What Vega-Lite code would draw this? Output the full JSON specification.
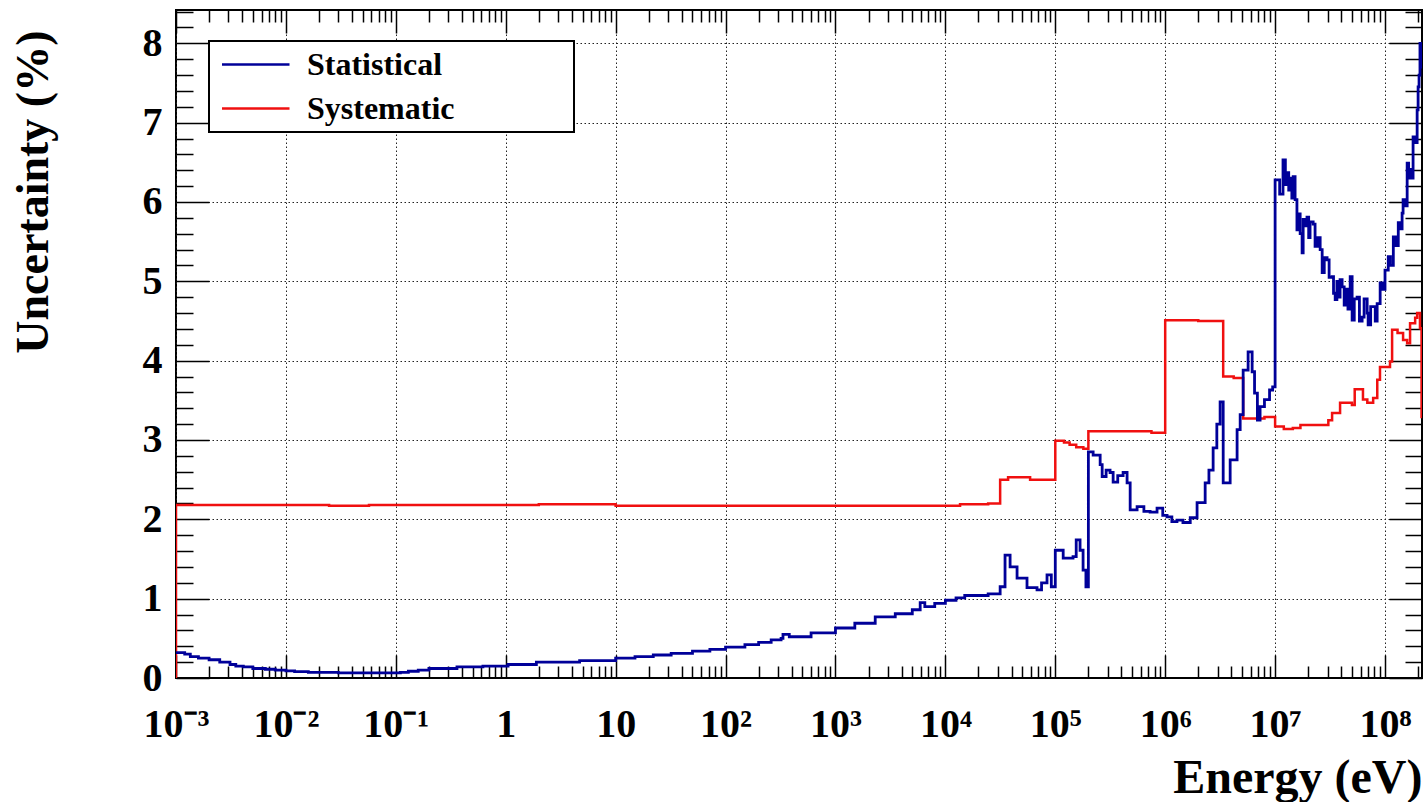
{
  "$schema": "https://vega.github.io/schema/vega-lite/v6.json",
  "width": 1246,
  "height": 668,
  "autosize": {"type": "none"},
  "padding": {"left": 176, "top": 10, "right": 5, "bottom": 124},
  "background": "white",
  "config": {
    "view": {"stroke": "black", "strokeWidth": 2},
    "font": "Liberation Serif",
    "axis": {
      "domain": false,
      "labelFont": "Liberation Serif",
      "labelFontWeight": "bold",
      "labelColor": "black",
      "titleFont": "Liberation Serif",
      "titleFontWeight": "bold",
      "titleColor": "black",
      "tickColor": "black",
      "tickWidth": 1.5,
      "gridColor": "#222222",
      "gridDash": [1.5, 2.5],
      "gridWidth": 1,
      "labelOverlap": false,
      "labelBound": false,
      "labelFlush": false
    }
  },
  "datasets": {
    "uncertainty": [
      {"series": "Systematic", "energy": 0.001, "uncertainty": 0},
      {"series": "Systematic", "energy": 0.001, "uncertainty": 2.18},
      {"series": "Systematic", "energy": 0.0247, "uncertainty": 2.17},
      {"series": "Systematic", "energy": 0.057, "uncertainty": 2.18},
      {"series": "Systematic", "energy": 2.0, "uncertainty": 2.19},
      {"series": "Systematic", "energy": 10, "uncertainty": 2.17},
      {"series": "Systematic", "energy": 13600, "uncertainty": 2.19},
      {"series": "Systematic", "energy": 24500, "uncertainty": 2.2},
      {"series": "Systematic", "energy": 31500, "uncertainty": 2.5},
      {"series": "Systematic", "energy": 37200, "uncertainty": 2.53},
      {"series": "Systematic", "energy": 59000, "uncertainty": 2.5},
      {"series": "Systematic", "energy": 100000, "uncertainty": 2.99},
      {"series": "Systematic", "energy": 120000, "uncertainty": 2.97},
      {"series": "Systematic", "energy": 135000, "uncertainty": 2.94},
      {"series": "Systematic", "energy": 155000, "uncertainty": 2.91},
      {"series": "Systematic", "energy": 180000, "uncertainty": 2.89},
      {"series": "Systematic", "energy": 200000, "uncertainty": 3.11},
      {"series": "Systematic", "energy": 750000, "uncertainty": 3.09},
      {"series": "Systematic", "energy": 1000000, "uncertainty": 4.51},
      {"series": "Systematic", "energy": 2000000, "uncertainty": 4.5},
      {"series": "Systematic", "energy": 3370000, "uncertainty": 3.8},
      {"series": "Systematic", "energy": 4200000, "uncertainty": 3.78},
      {"series": "Systematic", "energy": 5120000, "uncertainty": 3.27},
      {"series": "Systematic", "energy": 8000000, "uncertainty": 3.29},
      {"series": "Systematic", "energy": 10000000, "uncertainty": 3.17},
      {"series": "Systematic", "energy": 12000000, "uncertainty": 3.14},
      {"series": "Systematic", "energy": 14500000, "uncertainty": 3.15},
      {"series": "Systematic", "energy": 17000000, "uncertainty": 3.19},
      {"series": "Systematic", "energy": 30500000, "uncertainty": 3.25},
      {"series": "Systematic", "energy": 33000000, "uncertainty": 3.34},
      {"series": "Systematic", "energy": 39000000, "uncertainty": 3.47},
      {"series": "Systematic", "energy": 50000000, "uncertainty": 3.44},
      {"series": "Systematic", "energy": 53000000, "uncertainty": 3.64},
      {"series": "Systematic", "energy": 63000000, "uncertainty": 3.51},
      {"series": "Systematic", "energy": 69000000, "uncertainty": 3.47},
      {"series": "Systematic", "energy": 78000000, "uncertainty": 3.53},
      {"series": "Systematic", "energy": 85000000, "uncertainty": 3.76},
      {"series": "Systematic", "energy": 90000000, "uncertainty": 3.92},
      {"series": "Systematic", "energy": 111000000, "uncertainty": 3.99},
      {"series": "Systematic", "energy": 116000000, "uncertainty": 4.39},
      {"series": "Systematic", "energy": 130000000, "uncertainty": 4.35},
      {"series": "Systematic", "energy": 146000000, "uncertainty": 4.26},
      {"series": "Systematic", "energy": 159000000, "uncertainty": 4.22},
      {"series": "Systematic", "energy": 169000000, "uncertainty": 4.47},
      {"series": "Systematic", "energy": 188000000, "uncertainty": 4.54},
      {"series": "Systematic", "energy": 196000000, "uncertainty": 4.6},
      {"series": "Systematic", "energy": 208000000, "uncertainty": 4.41},
      {"series": "Systematic", "energy": 215000000, "uncertainty": 3.29},
      {"series": "Systematic", "energy": 217000000, "uncertainty": 3.29},

      {"series": "Statistical", "energy": 0.001, "uncertainty": 0.32},
      {"series": "Statistical", "energy": 0.0012, "uncertainty": 0.3},
      {"series": "Statistical", "energy": 0.00135, "uncertainty": 0.27},
      {"series": "Statistical", "energy": 0.0016, "uncertainty": 0.25},
      {"series": "Statistical", "energy": 0.002, "uncertainty": 0.23},
      {"series": "Statistical", "energy": 0.0025, "uncertainty": 0.2},
      {"series": "Statistical", "energy": 0.0031, "uncertainty": 0.17},
      {"series": "Statistical", "energy": 0.0035, "uncertainty": 0.15},
      {"series": "Statistical", "energy": 0.0041, "uncertainty": 0.14},
      {"series": "Statistical", "energy": 0.005, "uncertainty": 0.12},
      {"series": "Statistical", "energy": 0.0065, "uncertainty": 0.11},
      {"series": "Statistical", "energy": 0.008, "uncertainty": 0.1},
      {"series": "Statistical", "energy": 0.01, "uncertainty": 0.09},
      {"series": "Statistical", "energy": 0.012, "uncertainty": 0.08},
      {"series": "Statistical", "energy": 0.016, "uncertainty": 0.07},
      {"series": "Statistical", "energy": 0.03, "uncertainty": 0.065},
      {"series": "Statistical", "energy": 0.11, "uncertainty": 0.07},
      {"series": "Statistical", "energy": 0.13, "uncertainty": 0.085},
      {"series": "Statistical", "energy": 0.16, "uncertainty": 0.1},
      {"series": "Statistical", "energy": 0.2, "uncertainty": 0.12},
      {"series": "Statistical", "energy": 0.36, "uncertainty": 0.14},
      {"series": "Statistical", "energy": 0.62, "uncertainty": 0.15},
      {"series": "Statistical", "energy": 1.05, "uncertainty": 0.17},
      {"series": "Statistical", "energy": 1.9, "uncertainty": 0.2},
      {"series": "Statistical", "energy": 4.7, "uncertainty": 0.22},
      {"series": "Statistical", "energy": 10, "uncertainty": 0.25},
      {"series": "Statistical", "energy": 15, "uncertainty": 0.27},
      {"series": "Statistical", "energy": 22, "uncertainty": 0.29},
      {"series": "Statistical", "energy": 32, "uncertainty": 0.31},
      {"series": "Statistical", "energy": 50, "uncertainty": 0.34},
      {"series": "Statistical", "energy": 72, "uncertainty": 0.36},
      {"series": "Statistical", "energy": 100, "uncertainty": 0.39},
      {"series": "Statistical", "energy": 150, "uncertainty": 0.42},
      {"series": "Statistical", "energy": 200, "uncertainty": 0.45},
      {"series": "Statistical", "energy": 260, "uncertainty": 0.48},
      {"series": "Statistical", "energy": 320, "uncertainty": 0.5},
      {"series": "Statistical", "energy": 333, "uncertainty": 0.55},
      {"series": "Statistical", "energy": 380, "uncertainty": 0.52},
      {"series": "Statistical", "energy": 600, "uncertainty": 0.57},
      {"series": "Statistical", "energy": 1000, "uncertainty": 0.63},
      {"series": "Statistical", "energy": 1500, "uncertainty": 0.69},
      {"series": "Statistical", "energy": 2300, "uncertainty": 0.77},
      {"series": "Statistical", "energy": 3500, "uncertainty": 0.81},
      {"series": "Statistical", "energy": 5000, "uncertainty": 0.86},
      {"series": "Statistical", "energy": 5900, "uncertainty": 0.95},
      {"series": "Statistical", "energy": 6500, "uncertainty": 0.9},
      {"series": "Statistical", "energy": 8000, "uncertainty": 0.94},
      {"series": "Statistical", "energy": 10000, "uncertainty": 0.98},
      {"series": "Statistical", "energy": 12500, "uncertainty": 1.01},
      {"series": "Statistical", "energy": 15000, "uncertainty": 1.04},
      {"series": "Statistical", "energy": 24500, "uncertainty": 1.06},
      {"series": "Statistical", "energy": 31500, "uncertainty": 1.15},
      {"series": "Statistical", "energy": 34900, "uncertainty": 1.55},
      {"series": "Statistical", "energy": 38800, "uncertainty": 1.4},
      {"series": "Statistical", "energy": 44900, "uncertainty": 1.26},
      {"series": "Statistical", "energy": 55300, "uncertainty": 1.14},
      {"series": "Statistical", "energy": 68200, "uncertainty": 1.11},
      {"series": "Statistical", "energy": 75000, "uncertainty": 1.2},
      {"series": "Statistical", "energy": 84100, "uncertainty": 1.3},
      {"series": "Statistical", "energy": 92000, "uncertainty": 1.15},
      {"series": "Statistical", "energy": 100000, "uncertainty": 1.61},
      {"series": "Statistical", "energy": 118000, "uncertainty": 1.51},
      {"series": "Statistical", "energy": 145000, "uncertainty": 1.53},
      {"series": "Statistical", "energy": 155000, "uncertainty": 1.74},
      {"series": "Statistical", "energy": 168000, "uncertainty": 1.61},
      {"series": "Statistical", "energy": 179000, "uncertainty": 1.36},
      {"series": "Statistical", "energy": 190000, "uncertainty": 1.15},
      {"series": "Statistical", "energy": 200000, "uncertainty": 2.85},
      {"series": "Statistical", "energy": 221000, "uncertainty": 2.81},
      {"series": "Statistical", "energy": 256000, "uncertainty": 2.69},
      {"series": "Statistical", "energy": 267000, "uncertainty": 2.54},
      {"series": "Statistical", "energy": 290000, "uncertainty": 2.62},
      {"series": "Statistical", "energy": 315000, "uncertainty": 2.59},
      {"series": "Statistical", "energy": 336000, "uncertainty": 2.47},
      {"series": "Statistical", "energy": 370000, "uncertainty": 2.55},
      {"series": "Statistical", "energy": 414000, "uncertainty": 2.59},
      {"series": "Statistical", "energy": 450000, "uncertainty": 2.46},
      {"series": "Statistical", "energy": 480000, "uncertainty": 2.12},
      {"series": "Statistical", "energy": 555000, "uncertainty": 2.16},
      {"series": "Statistical", "energy": 640000, "uncertainty": 2.1},
      {"series": "Statistical", "energy": 729000, "uncertainty": 2.09},
      {"series": "Statistical", "energy": 843000, "uncertainty": 2.14},
      {"series": "Statistical", "energy": 950000, "uncertainty": 2.05},
      {"series": "Statistical", "energy": 1040000, "uncertainty": 2.03},
      {"series": "Statistical", "energy": 1150000, "uncertainty": 1.97},
      {"series": "Statistical", "energy": 1280000, "uncertainty": 1.99},
      {"series": "Statistical", "energy": 1450000, "uncertainty": 1.96},
      {"series": "Statistical", "energy": 1690000, "uncertainty": 2.02},
      {"series": "Statistical", "energy": 1950000, "uncertainty": 2.21},
      {"series": "Statistical", "energy": 2310000, "uncertainty": 2.46},
      {"series": "Statistical", "energy": 2500000, "uncertainty": 2.62},
      {"series": "Statistical", "energy": 2730000, "uncertainty": 2.9},
      {"series": "Statistical", "energy": 2950000, "uncertainty": 3.2},
      {"series": "Statistical", "energy": 3160000, "uncertainty": 3.48},
      {"series": "Statistical", "energy": 3370000, "uncertainty": 2.46},
      {"series": "Statistical", "energy": 3900000, "uncertainty": 2.75},
      {"series": "Statistical", "energy": 4510000, "uncertainty": 3.13},
      {"series": "Statistical", "energy": 4810000, "uncertainty": 3.32},
      {"series": "Statistical", "energy": 5120000, "uncertainty": 3.88},
      {"series": "Statistical", "energy": 5680000, "uncertainty": 4.11},
      {"series": "Statistical", "energy": 6180000, "uncertainty": 3.86},
      {"series": "Statistical", "energy": 6500000, "uncertainty": 3.59},
      {"series": "Statistical", "energy": 6900000, "uncertainty": 3.25},
      {"series": "Statistical", "energy": 7300000, "uncertainty": 3.42},
      {"series": "Statistical", "energy": 8000000, "uncertainty": 3.51},
      {"series": "Statistical", "energy": 8900000, "uncertainty": 3.63},
      {"series": "Statistical", "energy": 9500000, "uncertainty": 3.67},
      {"series": "Statistical", "energy": 10000000, "uncertainty": 6.28},
      {"series": "Statistical", "energy": 11000000, "uncertainty": 6.1},
      {"series": "Statistical", "energy": 11800000, "uncertainty": 6.53},
      {"series": "Statistical", "energy": 12400000, "uncertainty": 6.22},
      {"series": "Statistical", "energy": 12900000, "uncertainty": 6.37},
      {"series": "Statistical", "energy": 13300000, "uncertainty": 6.15},
      {"series": "Statistical", "energy": 13700000, "uncertainty": 6.3},
      {"series": "Statistical", "energy": 14200000, "uncertainty": 6.05},
      {"series": "Statistical", "energy": 14600000, "uncertainty": 6.32},
      {"series": "Statistical", "energy": 15200000, "uncertainty": 6.03},
      {"series": "Statistical", "energy": 15800000, "uncertainty": 5.65},
      {"series": "Statistical", "energy": 16400000, "uncertainty": 5.85},
      {"series": "Statistical", "energy": 16900000, "uncertainty": 5.6},
      {"series": "Statistical", "energy": 17600000, "uncertainty": 5.36},
      {"series": "Statistical", "energy": 18000000, "uncertainty": 5.78},
      {"series": "Statistical", "energy": 18800000, "uncertainty": 5.7},
      {"series": "Statistical", "energy": 19500000, "uncertainty": 5.81},
      {"series": "Statistical", "energy": 20200000, "uncertainty": 5.55},
      {"series": "Statistical", "energy": 20800000, "uncertainty": 5.75},
      {"series": "Statistical", "energy": 22200000, "uncertainty": 5.72},
      {"series": "Statistical", "energy": 23100000, "uncertainty": 5.44},
      {"series": "Statistical", "energy": 24500000, "uncertainty": 5.55},
      {"series": "Statistical", "energy": 25700000, "uncertainty": 5.4},
      {"series": "Statistical", "energy": 26800000, "uncertainty": 5.11},
      {"series": "Statistical", "energy": 28000000, "uncertainty": 5.3},
      {"series": "Statistical", "energy": 29700000, "uncertainty": 5.27},
      {"series": "Statistical", "energy": 31000000, "uncertainty": 5.05},
      {"series": "Statistical", "energy": 33000000, "uncertainty": 5.06},
      {"series": "Statistical", "energy": 34000000, "uncertainty": 4.85},
      {"series": "Statistical", "energy": 35200000, "uncertainty": 4.77},
      {"series": "Statistical", "energy": 36500000, "uncertainty": 5.0},
      {"series": "Statistical", "energy": 37400000, "uncertainty": 4.8},
      {"series": "Statistical", "energy": 39000000, "uncertainty": 5.02},
      {"series": "Statistical", "energy": 40700000, "uncertainty": 4.93},
      {"series": "Statistical", "energy": 42500000, "uncertainty": 4.7},
      {"series": "Statistical", "energy": 44300000, "uncertainty": 4.9},
      {"series": "Statistical", "energy": 46000000, "uncertainty": 4.65},
      {"series": "Statistical", "energy": 48200000, "uncertainty": 5.06},
      {"series": "Statistical", "energy": 50200000, "uncertainty": 4.51},
      {"series": "Statistical", "energy": 52500000, "uncertainty": 4.78},
      {"series": "Statistical", "energy": 55700000, "uncertainty": 4.8},
      {"series": "Statistical", "energy": 58500000, "uncertainty": 4.5},
      {"series": "Statistical", "energy": 61900000, "uncertainty": 4.55},
      {"series": "Statistical", "energy": 64500000, "uncertainty": 4.78},
      {"series": "Statistical", "energy": 68800000, "uncertainty": 4.6},
      {"series": "Statistical", "energy": 70200000, "uncertainty": 4.45},
      {"series": "Statistical", "energy": 74000000, "uncertainty": 4.68},
      {"series": "Statistical", "energy": 78000000, "uncertainty": 4.68},
      {"series": "Statistical", "energy": 81500000, "uncertainty": 4.5},
      {"series": "Statistical", "energy": 84800000, "uncertainty": 4.72},
      {"series": "Statistical", "energy": 90300000, "uncertainty": 4.98},
      {"series": "Statistical", "energy": 95000000, "uncertainty": 4.9},
      {"series": "Statistical", "energy": 100000000, "uncertainty": 5.14},
      {"series": "Statistical", "energy": 107000000, "uncertainty": 5.31},
      {"series": "Statistical", "energy": 112000000, "uncertainty": 5.2},
      {"series": "Statistical", "energy": 119000000, "uncertainty": 5.56},
      {"series": "Statistical", "energy": 125000000, "uncertainty": 5.45},
      {"series": "Statistical", "energy": 132000000, "uncertainty": 5.74},
      {"series": "Statistical", "energy": 138000000, "uncertainty": 5.66},
      {"series": "Statistical", "energy": 143000000, "uncertainty": 5.86},
      {"series": "Statistical", "energy": 146000000, "uncertainty": 6.03},
      {"series": "Statistical", "energy": 153000000, "uncertainty": 5.95},
      {"series": "Statistical", "energy": 159000000, "uncertainty": 6.49},
      {"series": "Statistical", "energy": 164000000, "uncertainty": 6.3},
      {"series": "Statistical", "energy": 169000000, "uncertainty": 6.41},
      {"series": "Statistical", "energy": 175000000, "uncertainty": 6.3},
      {"series": "Statistical", "energy": 180000000, "uncertainty": 6.82},
      {"series": "Statistical", "energy": 190000000, "uncertainty": 6.75},
      {"series": "Statistical", "energy": 196000000, "uncertainty": 7.16},
      {"series": "Statistical", "energy": 200000000, "uncertainty": 7.45},
      {"series": "Statistical", "energy": 204000000, "uncertainty": 7.6},
      {"series": "Statistical", "energy": 208000000, "uncertainty": 8.0},
      {"series": "Statistical", "energy": 212000000, "uncertainty": 7.7},
      {"series": "Statistical", "energy": 217000000, "uncertainty": 7.7}
    ]
  },
  "data": {"name": "uncertainty"},
  "encoding": {
    "color": {
      "field": "series",
      "type": "nominal",
      "scale": {"domain": ["Statistical", "Systematic"], "range": ["#000099", "#f01010"]},
      "legend": {
        "title": null,
        "orient": "none",
        "legendX": 33,
        "legendY": 31,
        "symbolType": "M-0.7,0H3.8",
        "symbolSize": 900,
        "symbolStrokeWidth": 2.5,
        "labelFont": "Liberation Serif",
        "labelFontWeight": "bold",
        "labelFontSize": 32,
        "labelColor": "black",
        "labelOffset": 58,
        "labelLimit": 1000,
        "labelExpr": "datum.label + '\u00a0\u00a0\u00a0\u00a0\u00a0\u00a0\u00a0\u00a0\u00a0\u00a0\u00a0\u00a0\u00a0\u00a0\u200b'",
        "rowPadding": 11,
        "padding": 7,
        "strokeColor": "black",
        "fillColor": "white",
        "encode": {"legend": {"update": {"strokeWidth": {"value": 2}}}}
      }
    }
  },
  "layer": [
    {
      "transform": [{"filter": "datum.series === 'Systematic'"}],
      "mark": {"type": "line", "interpolate": "step-after", "strokeWidth": 2.5, "clip": true},
      "encoding": {
        "x": {
          "field": "energy",
          "type": "quantitative",
          "scale": {"type": "log", "domain": [0.001, 217000000], "nice": false},
          "axis": {
            "orient": "bottom",
            "values": [0.001, 0.002, 0.003, 0.004, 0.005, 0.006, 0.007, 0.008, 0.009, 0.01, 0.02, 0.03, 0.04, 0.05, 0.06, 0.07, 0.08, 0.09, 0.1, 0.2, 0.3, 0.4, 0.5, 0.6, 0.7, 0.8, 0.9, 1, 2, 3, 4, 5, 6, 7, 8, 9, 10, 20, 30, 40, 50, 60, 70, 80, 90, 100, 200, 300, 400, 500, 600, 700, 800, 900, 1000, 2000, 3000, 4000, 5000, 6000, 7000, 8000, 9000, 10000, 20000, 30000, 40000, 50000, 60000, 70000, 80000, 90000, 100000, 200000, 300000, 400000, 500000, 600000, 700000, 800000, 900000, 1000000, 2000000, 3000000, 4000000, 5000000, 6000000, 7000000, 8000000, 9000000, 10000000, 20000000, 30000000, 40000000, 50000000, 60000000, 70000000, 80000000, 90000000, 100000000, 200000000],
            "title": "Energy (eV)",
            "titleFontSize": 48,
            "titleAlign": "right",
            "titleBaseline": "alphabetic",
            "titleX": 1246,
            "titleY": 114,
            "labelFontSize": 40,
            "labelBaseline": "alphabetic",
            "labelPadding": 81,
            "labelExpr": "abs(log(datum.value)/LN10 - round(log(datum.value)/LN10)) > 0.000001 ? '' : (round(log(datum.value)/LN10) == 0 ? '1' : (round(log(datum.value)/LN10) == 1 ? '10' : '10' + (round(log(datum.value)/LN10) < 0 ? '\u207b' : '') + substring('\u2070\u00b9\u00b2\u00b3\u2074\u2075\u2076\u2077\u2078\u2079', abs(round(log(datum.value)/LN10)), abs(round(log(datum.value)/LN10)) + 1)))",
            "grid": true,
            "gridOpacity": {"condition": {"test": "abs(log(datum.value)/LN10 - round(log(datum.value)/LN10)) < 0.000001", "value": 1}, "value": 0},
            "tickSize": {"condition": {"test": "abs(log(datum.value)/LN10 - round(log(datum.value)/LN10)) < 0.000001", "value": -23}, "value": -12}
          }
        },
        "y": {
          "field": "uncertainty",
          "type": "quantitative",
          "scale": {"domain": [0, 8.42], "nice": false, "zero": false},
          "axis": {
            "orient": "left",
            "values": [0, 0.2, 0.4, 0.6, 0.8, 1, 1.2, 1.4, 1.6, 1.8, 2, 2.2, 2.4, 2.6, 2.8, 3, 3.2, 3.4, 3.6, 3.8, 4, 4.2, 4.4, 4.6, 4.8, 5, 5.2, 5.4, 5.6, 5.8, 6, 6.2, 6.4, 6.6, 6.8, 7, 7.2, 7.4, 7.6, 7.8, 8, 8.2, 8.4],
            "title": "Uncertainty (%)",
            "titleFontSize": 46,
            "titleAngle": 270,
            "titleAlign": "right",
            "titleBaseline": "alphabetic",
            "titleX": -129,
            "titleY": 20,
            "labelFontSize": 40,
            "labelAlign": "right",
            "labelBaseline": "middle",
            "labelPadding": 47,
            "labelExpr": "abs(datum.value - round(datum.value)) < 0.000001 ? format(datum.value, 'd') : ''",
            "grid": true,
            "gridOpacity": {"condition": {"test": "abs(datum.value - round(datum.value)) < 0.000001 && datum.value > 0", "value": 1}, "value": 0},
            "tickSize": {"condition": {"test": "abs(datum.value - round(datum.value)) < 0.000001", "value": -33}, "value": -17}
          }
        }
      }
    },
    {
      "transform": [{"filter": "datum.series === 'Statistical'"}],
      "mark": {"type": "line", "interpolate": "step-after", "strokeWidth": 2.8, "clip": true},
      "encoding": {
        "x": {
          "field": "energy",
          "type": "quantitative",
          "scale": {"type": "log", "domain": [0.001, 217000000], "nice": false},
          "axis": {
            "orient": "top",
            "values": [0.001, 0.002, 0.003, 0.004, 0.005, 0.006, 0.007, 0.008, 0.009, 0.01, 0.02, 0.03, 0.04, 0.05, 0.06, 0.07, 0.08, 0.09, 0.1, 0.2, 0.3, 0.4, 0.5, 0.6, 0.7, 0.8, 0.9, 1, 2, 3, 4, 5, 6, 7, 8, 9, 10, 20, 30, 40, 50, 60, 70, 80, 90, 100, 200, 300, 400, 500, 600, 700, 800, 900, 1000, 2000, 3000, 4000, 5000, 6000, 7000, 8000, 9000, 10000, 20000, 30000, 40000, 50000, 60000, 70000, 80000, 90000, 100000, 200000, 300000, 400000, 500000, 600000, 700000, 800000, 900000, 1000000, 2000000, 3000000, 4000000, 5000000, 6000000, 7000000, 8000000, 9000000, 10000000, 20000000, 30000000, 40000000, 50000000, 60000000, 70000000, 80000000, 90000000, 100000000, 200000000],
            "title": null,
            "labels": false,
            "grid": false,
            "tickSize": {"condition": {"test": "abs(log(datum.value)/LN10 - round(log(datum.value)/LN10)) < 0.000001", "value": -23}, "value": -12}
          }
        },
        "y": {
          "field": "uncertainty",
          "type": "quantitative",
          "scale": {"domain": [0, 8.42], "nice": false, "zero": false},
          "axis": {
            "orient": "right",
            "values": [0, 0.2, 0.4, 0.6, 0.8, 1, 1.2, 1.4, 1.6, 1.8, 2, 2.2, 2.4, 2.6, 2.8, 3, 3.2, 3.4, 3.6, 3.8, 4, 4.2, 4.4, 4.6, 4.8, 5, 5.2, 5.4, 5.6, 5.8, 6, 6.2, 6.4, 6.6, 6.8, 7, 7.2, 7.4, 7.6, 7.8, 8, 8.2, 8.4],
            "title": null,
            "labels": false,
            "grid": false,
            "tickSize": {"condition": {"test": "abs(datum.value - round(datum.value)) < 0.000001", "value": -33}, "value": -17}
          }
        }
      }
    }
  ],
  "resolve": {"axis": {"x": "independent", "y": "independent"}}
}
